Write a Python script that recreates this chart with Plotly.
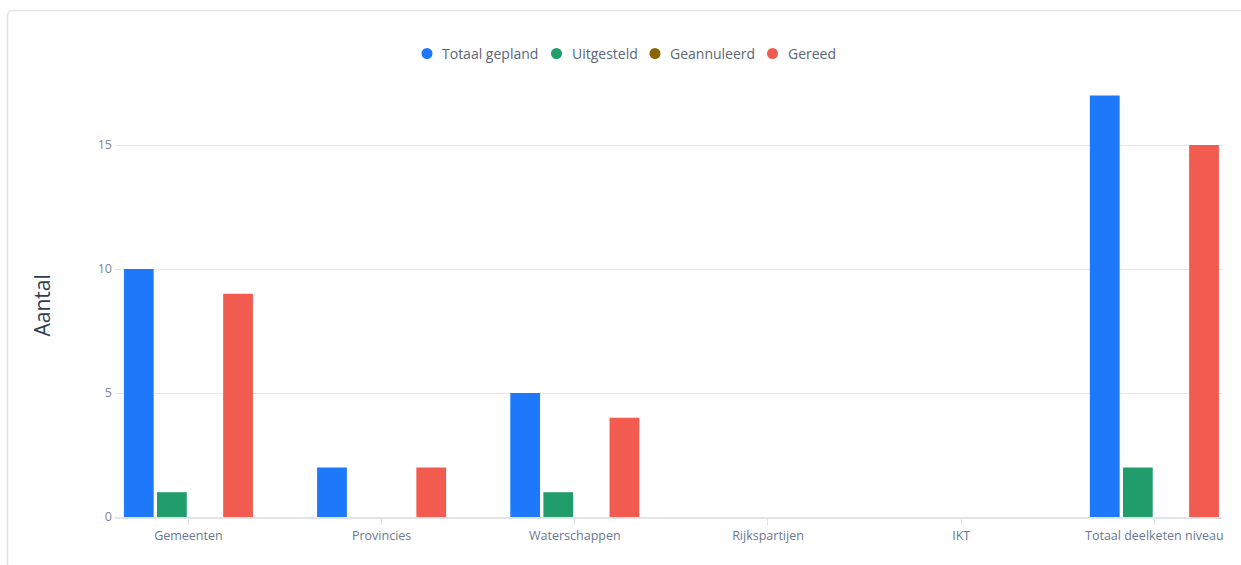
import plotly.graph_objects as go

categories = ["Gemeenten", "Provincies", "Waterschappen", "Rijkspartijen", "IKT", "Totaal deelketen niveau"]
totaal_gepland = [10, 2, 5, 0, 0, 17]
uitgesteld = [1, 0, 1, 0, 0, 2]
geannuleerd = [0, 0, 0, 0, 0, 0]
gereed = [9, 2, 4, 0, 0, 15]
series_names = ["Totaal gepland", "Uitgesteld", "Geannuleerd", "Gereed"]
colors = ["#1e78fa", "#219d6b", "#8c6400", "#f25b50"]

W, H = 1241, 565
L, R, T, B = 115, 1222, 80, 517
pw, ph = R - L, B - T

fig = go.Figure()
for name, vals, col in zip(series_names, [totaal_gepland, uitgesteld, geannuleerd, gereed], colors):
    fig.add_trace(go.Bar(x=categories, y=vals, name=name, marker=dict(color=col, line=dict(width=0)),
                         showlegend=False))


def px_x(x):
    return (x - L) / pw


def px_y(y):
    return (B - y) / ph


# card border
x0, ytop = px_x(7.5), px_y(10.5)
rx, ry = 6 / pw, 6 / ph
fig.add_shape(type="path", xref="paper", yref="paper",
              path=f"M {x0},{px_y(600)} L {x0},{ytop - ry} Q {x0},{ytop} {x0 + rx},{ytop} L {px_x(1300)},{ytop}",
              line=dict(color="#e3e3e3", width=1.5), layer="below")

# legend (circle markers + labels)
legend_marker_x = [427, 556.5, 655, 772.5]
for name, col, mx in zip(series_names, colors, legend_marker_x):
    fig.add_shape(type="circle", xref="paper", yref="paper", xsizemode="pixel", ysizemode="pixel",
                  xanchor=px_x(mx), yanchor=px_y(53.5), x0=-5.5, x1=5.5, y0=-5.5, y1=5.5,
                  fillcolor=col, line=dict(width=0))
    fig.add_annotation(text=name, xref="paper", yref="paper", x=px_x(mx + 13), y=px_y(53.5),
                       xanchor="left", yanchor="middle", showarrow=False,
                       font=dict(size=14, color="#5b6577", family="Open Sans"))

fig.add_annotation(text="Aantal", xref="paper", yref="paper", x=px_x(41.5), y=px_y(306),
                   xanchor="center", yanchor="middle",
                   textangle=-90, showarrow=False, font=dict(size=21, color="#2e3d52", family="Open Sans"))

fig.update_layout(
    width=W, height=H,
    margin=dict(l=L, r=W - R, t=T, b=H - B, pad=0),
    plot_bgcolor="white", paper_bgcolor="white",
    font=dict(family="Open Sans", color="#6b7890", size=13),
    barmode="group", bargap=0.315, bargroupgap=0.1,
    showlegend=False,
    xaxis=dict(type="category", range=[-0.38, 5.35], showgrid=False, showline=True,
               linecolor="#e0e3e8", linewidth=1.5, ticks="outside", ticklen=6, tickcolor="#e0e3e8",
               tickfont=dict(size=12.5, color="#6b7890"), fixedrange=True),
    yaxis=dict(range=[0, (B - T) / 24.8], tickvals=[0, 5, 10, 15], showgrid=True, gridcolor="#e4e7ec",
               gridwidth=1, zeroline=False, showline=False, ticks="", ticklabelstandoff=2,
               tickfont=dict(size=12.5, color="#7b879b")),
)

fig.write_html("out.html", post_script="document.body.style.margin='0';",
               config={"displayModeBar": False})
